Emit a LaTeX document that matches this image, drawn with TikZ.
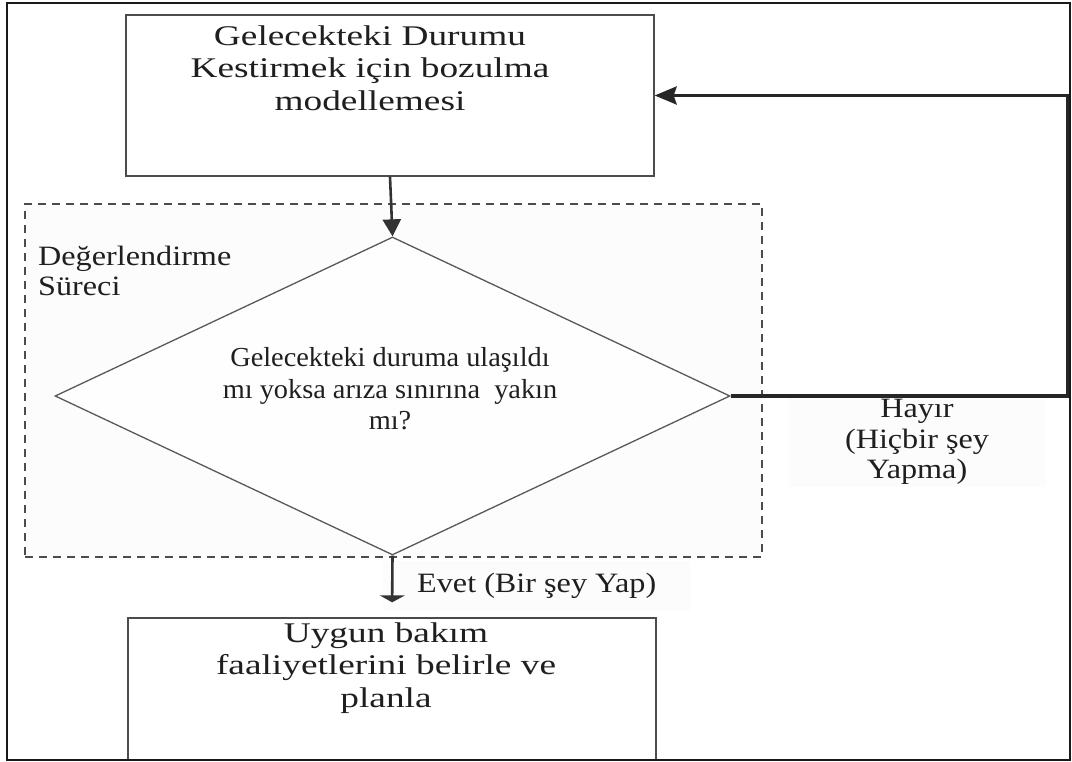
\documentclass[tikz,border=0pt]{standalone}
\usepackage{fontspec}
\setmainfont{Liberation Serif}[FakeStretch=1.31]
\newfontfamily\lblfont{Liberation Serif}[FakeStretch=1.15]
\newfontfamily\qfont{Liberation Serif}[FakeStretch=1.03]
\usetikzlibrary{shapes.geometric,arrows.meta}
\begin{document}
\begin{tikzpicture}[x=1pt,y=-1pt,
  frameline/.style={draw=black!90, line width=2.2pt},
  box/.style={draw=black!70, line width=1.3pt, inner sep=0pt, fill=white},
  region/.style={draw=black!70, line width=1.5pt, dash pattern=on 8pt off 6pt, inner sep=0pt, fill=black!1},
  decision/.style={diamond, draw=black!65, line width=1.3pt, inner sep=0pt, fill=black!0.5},
  boxtext/.style={text=black!88, align=center, inner sep=0pt, font=\fontsize{28.5}{32.5}\selectfont},
  qtextstyle/.style={text=black!88, align=center, inner sep=0pt, font=\qfont\fontsize{27.5}{31.5}\selectfont},
  lbl/.style={text=black!88, align=center, inner sep=0pt, font=\lblfont\fontsize{28}{30.5}\selectfont},
  flow/.style={draw=black!80, line width=2.6pt},
  loopline/.style={draw=black!85, line width=3.4pt}
]
\useasboundingbox (0,0) rectangle (1072,762);
\fill[white] (0,0) rectangle (1072,762);

% evaluation region and decision
\node[region, minimum width=737pt, minimum height=353pt] (eval) at (393.5,380.5) {};
\node[decision, minimum width=675pt, minimum height=318pt] (q) at (392.5,396) {};
\node[qtextstyle] (qtext) at (390,389) {Gelecekteki duruma ulaşıldı\\mı yoksa arıza sınırına~ yakın\\mı?};
\node[lbl, align=left, anchor=west] (evallbl) at (38,271) {Değerlendirme\\Süreci};

% process boxes
\node[box, minimum width=528pt, minimum height=161pt] (model) at (390,95.5) {};
\node[boxtext] (modeltext) at (370,68) {Gelecekteki Durumu\\Kestirmek için bozulma\\modellemesi};
\node[box, minimum width=528pt, minimum height=142pt] (plan) at (392,689) {};
\node[boxtext] (plantext) at (386,668) {Uygun bakım\\faaliyetlerini belirle ve\\planla};

% branch labels
\node[lbl, fill=black!1, minimum width=258pt, minimum height=89pt] (nolbl) at (917,442) {Hayır\\(Hiçbir şey\\Yapma)};
\node[lbl, fill=black!1, anchor=west, minimum height=50pt, inner xsep=34pt] (yeslbl) at (383,586) {Evet (Bir şey Yap)};

% connectors
\draw[flow, -{Triangle[length=17pt,width=18pt]}] (model.south) -- (q.north);
\draw[flow, -{Triangle[length=7pt,width=25pt]}, shorten >=15pt] (q.south) -- (plan.north);
\draw[loopline, -{Stealth[length=22pt,width=18pt,inset=3pt]}]
  (q.east) -- ++(337,0) |- (model.east);

% outer frame
\draw[frameline] (7,3) rectangle (1070,760);
\end{tikzpicture}
\end{document}
